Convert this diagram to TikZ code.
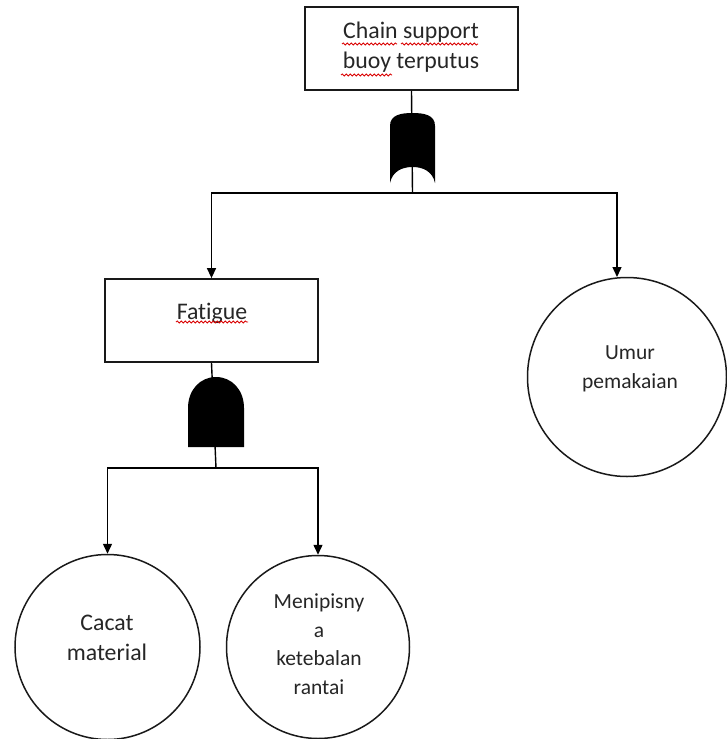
\documentclass[tikz,border=0pt]{standalone}
\usepackage{fontspec}
\setmainfont{Carlito}[Ligatures=NoCommon]
\usetikzlibrary{arrows.meta,decorations.pathmorphing}
\begin{document}
\begin{tikzpicture}[x=1pt,y=-1pt,
  boxnode/.style={draw=black!90,line width=1.8pt,rectangle,minimum width=213pt,minimum height=83pt,inner sep=0pt},
  eventcirc/.style={draw=black!90,line width=1.5pt,circle,inner sep=0pt},
  lblbig/.style={font=\fontsize{23.8}{30}\selectfont,text=black!85,align=center,inner sep=0pt},
  lblsmall/.style={font=\fontsize{21.5}{28.5}\selectfont,text=black!85,align=center,inner sep=0pt},
  conn/.style={line width=1.4pt,draw=black},
  arr/.style={conn,-{Triangle[length=10pt,width=9pt]}},
  squiggle/.style={draw=red!85!black,line width=0.8pt,decorate,decoration={snake,amplitude=1.1pt,segment length=4pt}},
  orgate/.pic={
    \fill[black] (-22.5,35) -- (-22.5,-22)
      .. controls (-22.5,-33) and (-12,-35) .. (0,-35)
      .. controls (12,-35) and (22.5,-33) .. (22.5,-22)
      -- (22.5,35)
      .. controls (20,23) and (10,19) .. (0,19)
      .. controls (-10,19) and (-20,23) .. (-22.5,35) -- cycle;
  },
  andgate/.pic={
    \fill[black] (-28,35) -- (-28,-4)
      .. controls (-28,-22) and (-16,-35) .. (0,-35)
      .. controls (16,-35) and (28,-22) .. (28,-4)
      -- (28,35) -- cycle;
  }
]
\useasboundingbox (0,0) rectangle (727,739);

% top event
\node[boxnode] (top) at (411.5,48.5) {};
\node[lblbig] (toplbl) at (411,47) {Chain support\\buoy terputus};

% intermediate event
\node[boxnode] (fat) at (211.5,320.5) {};
\node[lblbig] (fatlbl) at (212,313) {Fatigue};

% basic events
\node[eventcirc,minimum size=199pt] (umur) at (627,377) {};
\node[lblsmall] (umurlbl) at (630,369) {Umur\\pemakaian};
\node[eventcirc,minimum size=185pt] (cacat) at (107.5,647) {};
\node[lblbig] (cacatlbl) at (107,638) {Cacat\\material};
\node[eventcirc,minimum size=183pt] (tipis) at (318,647) {};
\node[lblsmall] (tipislbl) at (319,644) {Menipisny\\a\\ketebalan\\rantai};

% junction points below the gates
\coordinate (j1) at (412.5,193);
\coordinate (j2) at (216,468);
\coordinate (umurin) at (617,277);

% connectors
\draw[conn] (top.south) -- (j1);
\draw[arr] (j1) -| (fat.north);
\draw[arr] (j1) -| (umurin);
\draw[conn] (fat.south) -- (j2);
\draw[arr] (j2) -| (cacat.north);
\draw[arr] (j2) -| (tipis.north);

% gates
\pic at (412.5,148) {orgate};
\pic at (216,412) {andgate};

% spell-check underlines
\draw[squiggle] (342,44) -- (397,44);
\draw[squiggle] (401,44) -- (478,44);
\draw[squiggle] (341,75) -- (392,75);
\draw[squiggle] (176,322) -- (248,322);
\end{tikzpicture}
\end{document}
